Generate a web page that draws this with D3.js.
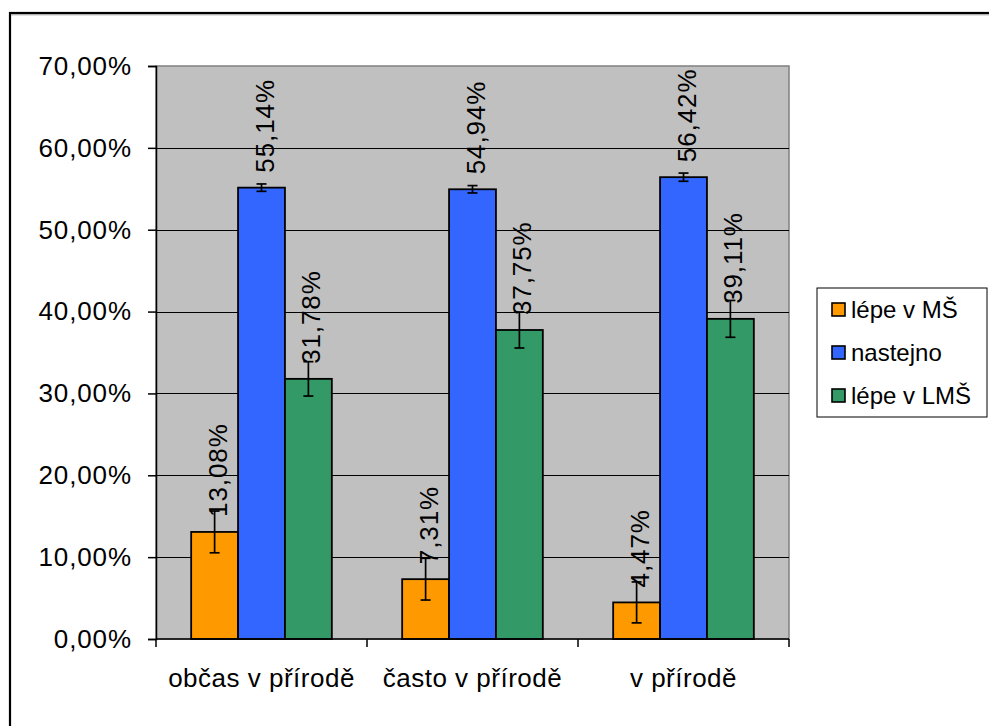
<!DOCTYPE html>
<html>
<head>
<meta charset="utf-8">
<script src="https://cdn.jsdelivr.net/npm/d3@7/dist/d3.min.js"></script>
<style>
  html, body { margin: 0; padding: 0; background: #fff; }
  svg { display: block; font-family: "Liberation Sans", Arial, sans-serif; }
</style>
</head>
<body>
<svg id="chart" width="989" height="726"></svg>
<script>
// ---- data ----
const categories = ["občas v přírodě", "často v přírodě", "v přírodě"];
const seriesNames = ["lépe v MŠ", "nastejno", "lépe v LMŠ"];
const seriesColors = ["#FF9900", "#3366FF", "#339966"];
const valuesMS  = [0.1308, 0.0731, 0.0447];
const valuesNastejno = [0.5514, 0.5494, 0.5642];
const valuesLMS = [0.3178, 0.3775, 0.3911];
const errorsMS  = [0.0255, 0.0255, 0.0250];
const errorsNastejno = [0.0045, 0.0045, 0.0050];
const errorsLMS = [0.0210, 0.0220, 0.0225];
const yTicks = [0, 0.1, 0.2, 0.3, 0.4, 0.5, 0.6, 0.7];

const seriesValues = [valuesMS, valuesNastejno, valuesLMS];
const seriesErrors = [errorsMS, errorsNastejno, errorsLMS];

const locale = d3.formatLocale({decimal: ",", thousands: " ", grouping: [3], currency: ["", " Kč"]});
const pct = locale.format(".2%");

const svg = d3.select("#chart");

// outer chart border
svg.append("rect").attr("x", 10).attr("y", 13).attr("width", 1000).attr("height", 800)
  .attr("fill", "none").attr("stroke", "#000").attr("stroke-width", 2.2);
svg.append("line").attr("x1", 11).attr("x2", 989).attr("y1", 14.8).attr("y2", 14.8)
  .attr("stroke", "#9a9a9a").attr("stroke-width", 1);

const pLeft = 156, pRight = 789, pTop = 66, pBottom = 639;

const y = d3.scaleLinear().domain([0, 0.7]).range([pBottom, pTop]);
const x0 = d3.scaleBand().domain(categories).range([pLeft, pRight]).padding(0);
const x1 = d3.scaleBand().domain(seriesNames).range([0, x0.bandwidth()])
  .paddingInner(0).paddingOuter(0.75);

// plot area
svg.append("rect").attr("x", pLeft).attr("y", pTop).attr("width", pRight - pLeft).attr("height", pBottom - pTop)
  .attr("fill", "#C0C0C0").attr("stroke", "#808080").attr("stroke-width", 1.5);

// gridlines
svg.append("g").selectAll("line").data(yTicks.filter(d => d > 0 && d < 0.7)).join("line")
  .attr("x1", pLeft).attr("x2", pRight)
  .attr("y1", d => Math.round(y(d)) + 0.5).attr("y2", d => Math.round(y(d)) + 0.5)
  .attr("stroke", "#000").attr("stroke-width", 1);

// bars
const flat = [];
categories.forEach((c, ci) => {
  seriesNames.forEach((s, si) => {
    flat.push({c, s, si, v: seriesValues[si][ci], e: seriesErrors[si][ci]});
  });
});

svg.append("g").selectAll("rect").data(flat).join("rect")
  .attr("x", d => x0(d.c) + x1(d.s))
  .attr("y", d => y(d.v))
  .attr("width", x1.bandwidth())
  .attr("height", d => y(0) - y(d.v))
  .attr("fill", d => seriesColors[d.si])
  .attr("stroke", "#000").attr("stroke-width", 1.8);

// error bars
const eg = svg.append("g").attr("stroke", "#000").attr("stroke-width", 1.7);
flat.forEach(d => {
  const cx = x0(d.c) + x1(d.s) + x1.bandwidth() / 2;
  eg.append("line").attr("x1", cx).attr("x2", cx).attr("y1", y(d.v + d.e)).attr("y2", y(d.v - d.e));
  eg.append("line").attr("x1", cx - 5).attr("x2", cx + 5).attr("y1", y(d.v + d.e)).attr("y2", y(d.v + d.e));
  eg.append("line").attr("x1", cx - 5).attr("x2", cx + 5).attr("y1", y(d.v - d.e)).attr("y2", y(d.v - d.e));
});

// data labels
svg.append("g").selectAll("text").data(flat).join("text")
  .attr("transform", d => `translate(${x0(d.c) + x1(d.s) + x1.bandwidth() / 2 + 3},${y(d.v) - 15}) rotate(-90)`)
  .attr("dy", "0.35em")
  .attr("text-anchor", "start")
  .attr("font-size", 26)
  .attr("letter-spacing", "0.9px")
  .attr("fill", "#000")
  .text(d => pct(d.v));

// y axis
const yAxis = d3.axisLeft(y).tickValues(yTicks).tickFormat(pct).tickSize(8).tickPadding(16);
const ya = svg.append("g").attr("transform", `translate(${pLeft},0)`).call(yAxis);
ya.select(".domain").attr("stroke", "#000").attr("stroke-width", 1.5);
ya.selectAll(".tick line").attr("stroke", "#000").attr("stroke-width", 1.5);
ya.selectAll(".tick text").attr("font-size", 26).attr("fill", "#000")
  .attr("letter-spacing", "0.9px")
  .attr("font-family", "Liberation Sans, Arial, sans-serif");

// x axis
const xa = svg.append("g").attr("transform", `translate(0,${pBottom})`);
xa.append("line").attr("x1", pLeft).attr("x2", pRight).attr("y1", 0).attr("y2", 0)
  .attr("stroke", "#000").attr("stroke-width", 1.5);
const boundaries = categories.map(c => x0(c)).concat([x0(categories[categories.length - 1]) + x0.bandwidth()]);
xa.selectAll("line.tk").data(boundaries).join("line").attr("class", "tk")
  .attr("x1", d => d).attr("x2", d => d).attr("y1", 0).attr("y2", 8)
  .attr("stroke", "#000").attr("stroke-width", 1.5);
xa.selectAll("text").data(categories).join("text")
  .attr("x", d => x0(d) + x0.bandwidth() / 2)
  .attr("y", 48)
  .attr("text-anchor", "middle")
  .attr("font-size", 26)
  .attr("letter-spacing", "0.5px")
  .attr("fill", "#000")
  .text(d => d);

// legend
const lg = svg.append("g");
lg.append("rect").attr("x", 817).attr("y", 288).attr("width", 170).attr("height", 129)
  .attr("fill", "#fff").attr("stroke", "#000").attr("stroke-width", 1);
seriesNames.forEach((s, i) => {
  const cy = 310 + i * 43;
  lg.append("rect").attr("x", 832).attr("y", cy - 7).attr("width", 13).attr("height", 13)
    .attr("fill", seriesColors[i]).attr("stroke", "#000").attr("stroke-width", 1.6);
  lg.append("text").attr("x", 851).attr("y", cy + 8).attr("font-size", 24).attr("fill", "#000").text(s);
});
</script>
</body>
</html>
